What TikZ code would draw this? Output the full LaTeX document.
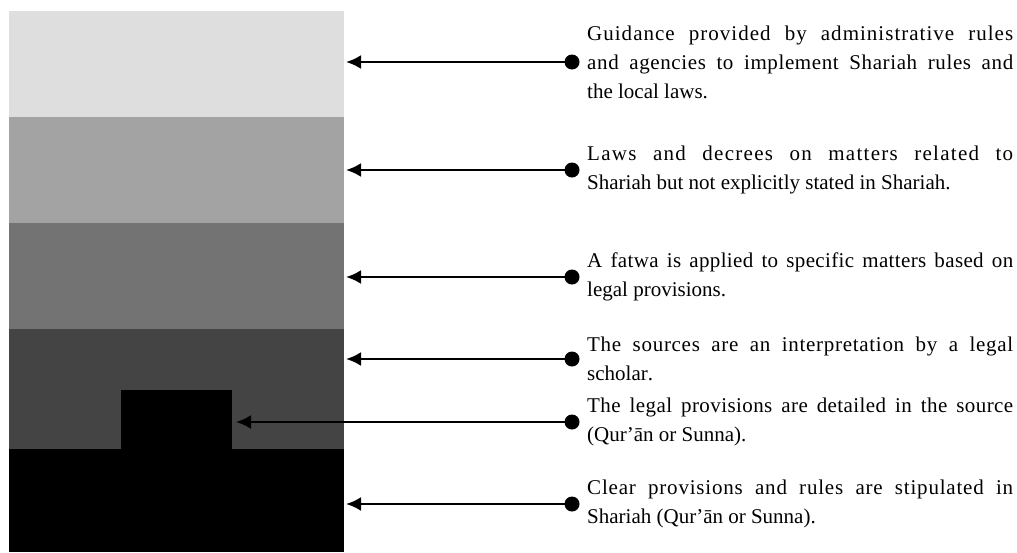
\documentclass[tikz,border=0pt]{standalone}
\usepackage{fontspec}
\setmainfont{Liberation Serif}
\usepackage{xcolor}
\usetikzlibrary{arrows.meta,positioning}
\definecolor{bandA}{HTML}{DEDEDE}
\definecolor{bandB}{HTML}{A3A3A3}
\definecolor{bandC}{HTML}{737373}
\definecolor{bandD}{HTML}{444444}
% a little letter spacing in the justified lines
\newcount\lsc
\lsc=33 \loop \XeTeXcharclass\lsc=1 \advance\lsc by 1 \ifnum\lsc<127 \repeat
\XeTeXcharclass"0101=1
\XeTeXcharclass"2019=1
\XeTeXinterchartoks 1 1 = {\nobreak\hskip 0pt plus 0.3pt\relax}
\newcommand\descfont{\fontsize{21}{29}\selectfont\XeTeXinterchartokenstate=1\relax}

\begin{document}
\begin{tikzpicture}[x=1pt,y=-1pt,
	desc/.style={text width=426pt,align=justify,inner sep=0pt,font=\descfont},
	pointer/.style={-{Latex[length=15pt,width=14pt]},line width=2.5pt}]
	\useasboundingbox (0,0) rectangle (1017,552);
	% the layers
	\fill[bandA] (9,11) rectangle (344,117);
	\fill[bandB] (9,117) rectangle (344,223);
	\fill[bandC] (9,223) rectangle (344,329);
	\fill[bandD] (9,329) rectangle (344,449);
	\fill[black] (121,390) rectangle (232,449);
	\fill[black] (9,449) rectangle (344,552);
	% where the arrows end
	\coordinate (e1) at (346,62);
	\coordinate (e2) at (346,170);
	\coordinate (e3) at (346,277);
	\coordinate (e4) at (346,359);
	\coordinate (e5) at (236,422);
	\coordinate (e6) at (346,504);
	% dots
	\coordinate (d1) at (572,62);
	\coordinate (d2) at (572,170);
	\coordinate (d3) at (572,277);
	\coordinate (d4) at (572,359);
	\coordinate (d5) at (572,422);
	\coordinate (d6) at (572,504);
	\node[desc,right=15pt of d1] (t1) {Guidance provided by administrative rules\linebreak and agencies to implement Shariah rules and\linebreak the local laws.};
	\node[desc,right=15pt of d2] (t2) {Laws and decrees on matters related to\linebreak Shariah but not explicitly stated in Shariah.};
	\node[desc,right=15pt of d3] (t3) {A fatwa is applied to specific matters based on\linebreak legal provisions.};
	\node[desc,right=15pt of d4] (t4) {The sources are an interpretation by a legal\linebreak scholar.};
	\node[desc,right=15pt of d5] (t5) {The legal provisions are detailed in the source\linebreak (Qur’ān or Sunna).};
	\node[desc,right=15pt of d6] (t6) {Clear provisions and rules are stipulated in\linebreak Shariah (Qur’ān or Sunna).};
	\foreach \i in {1,...,6}{
		\draw[pointer] (d\i) -- (e\i);
		\fill[black] (d\i) circle (7.5);
	}
\end{tikzpicture}
\end{document}
